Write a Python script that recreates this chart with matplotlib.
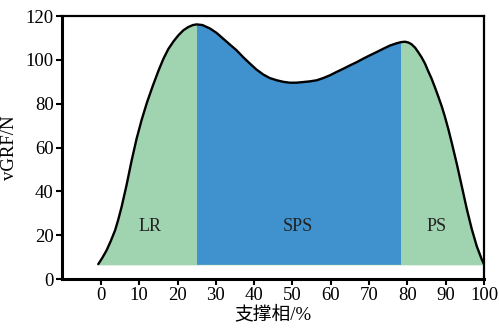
import matplotlib
matplotlib.use("Agg")
import matplotlib.pyplot as plt

plt.rcParams["font.family"] = ["Liberation Serif", "Noto Sans CJK SC"]

# stance phase (%) vs vertical ground reaction force (N)
stance = [-0.7, 0.4, 1.5, 2.6, 3.7, 4.5, 5.4, 6.7, 8.0, 9.3, 10.6, 12.0,
          13.5, 15.0, 16.3, 17.6, 19.0, 20.2, 21.5, 22.8, 24.0, 25.0,
          26.5, 28.5, 30.2, 31.9, 33.6, 35.4, 37.1, 38.9, 40.6, 42.4,
          44.1, 45.9, 47.6, 49.3, 51.0, 52.8, 54.5, 56.3, 58.0, 59.8,
          61.5, 63.3, 65.0, 66.8, 68.5, 70.2, 72.0, 73.7, 75.5, 77.2,
          78.3, 79.4, 80.3, 81.1, 82.0, 82.8, 83.7, 84.6, 85.4, 86.3,
          87.2, 88.1, 89.0, 89.8, 90.7, 91.6, 92.9, 94.2, 95.5, 96.8,
          98.1, 99.4, 100.0]
force = [6.8, 9.8, 13.2, 17.5, 22.3, 27.0, 33.0, 43.0, 54.0, 64.0, 72.5, 80.5,
         88.0, 95.0, 100.5, 105.0, 108.6, 111.2, 113.5, 115.0, 115.9, 116.2,
         115.9, 114.3, 112.3, 109.7, 107.1, 104.4, 101.3, 98.3, 95.6, 93.3,
         91.7, 90.7, 90.0, 89.6, 89.6, 89.9, 90.2, 90.7, 91.7, 93.0,
         94.5, 96.0, 97.5, 99.0, 100.6, 102.1, 103.6, 105.1, 106.6, 107.6,
         108.1, 108.3, 107.9, 107.1, 105.6, 103.6, 101.2, 98.3, 95.0, 91.5,
         87.4, 83.1, 78.6, 74.0, 68.3, 62.0, 52.5, 42.3, 32.0, 22.8,
         15.0, 9.0, 6.8]
base = 6.5

phases = ["LR", "SPS", "PS"]
phase_edges = [25.0, 78.3]
label_x = [12.8, 51.4, 87.5]
label_y = 24

green = "#a0d4b1"
blue = "#3f92cd"

fig = plt.figure(figsize=(4.99, 3.35), dpi=100)
ax = fig.add_axes([0.124, 0.167, 0.846, 0.785])

poly = ax.fill_between(stance, base, force, color=green, lw=0, zorder=1)
span = ax.axvspan(phase_edges[0], phase_edges[1], color=blue, lw=0, zorder=2)
span.set_clip_path(poly.get_paths()[0], ax.transData)
ax.plot(stance, force, color="black", lw=1.7, solid_joinstyle="round",
        solid_capstyle="round", zorder=3)

for name, lx in zip(phases, label_x):
    ax.text(lx, label_y, name, ha="center", va="center", fontsize=13, color="#222222", zorder=4)

ax.set_xlim(-10.2, 100)
ax.set_ylim(0, 120)
ax.set_xticks(range(0, 101, 10))
ax.set_yticks(range(0, 121, 20))
ax.tick_params(direction="out", length=4, width=1.5, labelsize=13.5, pad=2)

for side in ["left", "bottom"]:
    ax.spines[side].set_linewidth(2.2)
for side in ["top", "right"]:
    ax.spines[side].set_linewidth(1.6)

ax.set_xlabel("支撑相/%", fontsize=13.5, labelpad=1)
ax.set_ylabel("vGRF/N", fontsize=13.5, labelpad=5)

fig.savefig("out.png", dpi=100)
